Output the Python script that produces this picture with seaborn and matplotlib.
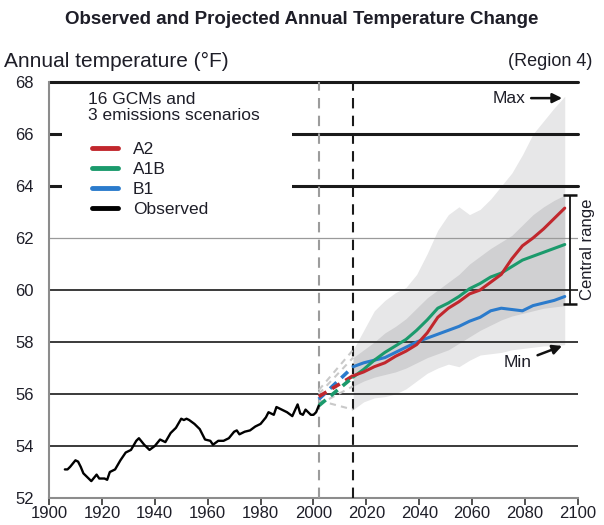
import numpy as np
import pandas as pd
import matplotlib.pyplot as plt
import seaborn as sns
from matplotlib.lines import Line2D
from matplotlib.patches import Rectangle

sns.set_theme(style='white')
plt.rcParams['font.family'] = ['Liberation Sans', 'DejaVu Sans']
TXT = '#1e1e28'

# Observed annual temperature (deg F), running mean
obs_years = [1906, 1907, 1908, 1910, 1911, 1912, 1913, 1915, 1916, 1918, 1919, 1921, 1922,
             1923, 1925, 1927, 1929, 1931, 1933, 1934, 1936, 1938, 1940, 1942, 1944, 1946,
             1948, 1950, 1951, 1952, 1953, 1955, 1957, 1959, 1961, 1962, 1964, 1966, 1968,
             1970, 1971, 1972, 1974, 1976, 1978, 1980, 1982, 1983, 1985, 1986, 1988, 1990,
             1992, 1994, 1995, 1996, 1997, 1998, 1999, 2000, 2001, 2002]
obs_temp = [53.1, 53.1, 53.2, 53.45, 53.4, 53.2, 52.95, 52.75, 52.65, 52.9, 52.75, 52.75, 52.7,
            53.0, 53.1, 53.45, 53.75, 53.85, 54.2, 54.3, 54.05, 53.85, 54.0, 54.25, 54.15, 54.5,
            54.7, 55.05, 55.0, 55.05, 55.0, 54.85, 54.65, 54.25, 54.2, 54.05, 54.2, 54.2, 54.3,
            54.55, 54.6, 54.45, 54.55, 54.6, 54.75, 54.85, 55.1, 55.3, 55.2, 55.5, 55.4, 55.3,
            55.15, 55.6, 55.25, 55.2, 55.4, 55.3, 55.2, 55.2, 55.3, 55.55]

# Projections (multi-model mean per scenario) and envelopes
proj_years = [2015, 2019, 2023, 2027, 2031, 2035, 2039, 2043, 2047, 2051, 2055,
              2059, 2063, 2067, 2071, 2075, 2079, 2083, 2087, 2091, 2095]
a2 = [56.70, 56.85, 57.05, 57.2, 57.45, 57.65, 57.9, 58.35, 58.95, 59.3, 59.55,
      59.85, 60.0, 60.3, 60.6, 61.2, 61.7, 62.0, 62.35, 62.75, 63.15]
a1b = [56.65, 56.95, 57.3, 57.6, 57.85, 58.1, 58.45, 58.85, 59.3, 59.5, 59.75,
       60.05, 60.25, 60.5, 60.65, 60.9, 61.15, 61.3, 61.45, 61.6, 61.75]
b1 = [57.05, 57.2, 57.3, 57.4, 57.6, 57.8, 58.0, 58.15, 58.3, 58.45, 58.6,
      58.8, 58.95, 59.2, 59.3, 59.25, 59.2, 59.4, 59.5, 59.6, 59.75]
env_max = [57.7, 58.45, 59.2, 59.6, 59.9, 60.1, 60.6, 61.4, 62.3, 62.9, 63.2,
           62.9, 63.1, 63.5, 64.0, 64.5, 65.2, 66.0, 66.5, 67.0, 67.45]
env_min = [55.4, 55.7, 55.85, 55.9, 56.0, 56.2, 56.5, 56.8, 57.0, 57.15, 57.05,
           57.3, 57.5, 57.55, 57.6, 57.7, 57.75, 57.8, 57.85, 57.85, 57.9]
cen_hi = [57.4, 57.7, 58.0, 58.35, 58.6, 58.9, 59.3, 59.7, 60.0, 60.3, 60.6,
          61.0, 61.3, 61.6, 61.85, 62.1, 62.5, 62.9, 63.2, 63.45, 63.65]
cen_lo = [56.3, 56.5, 56.65, 56.75, 56.85, 57.0, 57.2, 57.4, 57.55, 57.7, 57.95,
          58.2, 58.45, 58.65, 58.85, 59.0, 59.1, 59.2, 59.3, 59.35, 59.4]

# Bridge (dashed) segments between end of observations and start of projections
bridge_years = [2002, 2015]
bridge_a2 = [55.9, 56.7]
bridge_a1b = [55.55, 56.65]
bridge_b1 = [55.8, 57.05]
bridge_gray = [[56.15, 57.7], [56.0, 57.4], [55.6, 56.3], [55.75, 55.4]]

scenarios = ['A2', 'A1B', 'B1']
palette = {'A2': '#c1272d', 'A1B': '#1b9a6c', 'B1': '#2b7bcc'}

proj = pd.DataFrame({
    'year': proj_years * 3,
    'temp': a2 + a1b + b1,
    'scenario': ['A2'] * len(a2) + ['A1B'] * len(a1b) + ['B1'] * len(b1),
})
obs = pd.DataFrame({'year': obs_years, 'temp': obs_temp})

fig = plt.figure(figsize=(6.04, 5.25), dpi=100)
ax = fig.add_axes([0.0811, 0.0514, 0.8758, 0.7924])

# envelopes
ax.fill_between(proj_years, env_min, env_max, color='#e7e7e8', lw=0, zorder=1)
ax.fill_between(proj_years, cen_lo, cen_hi, color='#d0d0d2', lw=0, zorder=1.2)

# horizontal reference lines
for v in [68, 66, 64]:
    ax.axhline(v, color='#1a1a1a', lw=2.2, zorder=2.5, clip_on=False)
ax.axhline(62, color='#9a9a9a', lw=0.9, zorder=2.5)
for v in [60, 58, 56, 54]:
    ax.axhline(v, color='#2b2b2b', lw=1.3, zorder=2.5)

# white box behind legend
ax.add_patch(Rectangle((1905, 62.75), 87, 4.9, facecolor='white', edgecolor='none', zorder=3))

# vertical dashed markers
ax.axvline(2002, color='#9c9c9c', lw=1.5, dashes=(5, 3.5), zorder=2.6)
ax.axvline(2015, color='#1a1a1a', lw=1.5, dashes=(5, 3.5), zorder=2.6)

# dashed bridges
for g in bridge_gray:
    ax.plot(bridge_years, g, color='#c9c9c9', lw=1.5, dashes=(3, 2.5), zorder=2.7)
for vals, s in zip([bridge_b1, bridge_a2, bridge_a1b], ['B1', 'A2', 'A1B']):
    ax.plot(bridge_years, vals, color=palette[s], lw=2.6, dashes=(2.5, 1.8), zorder=2.8)

sns.lineplot(data=obs, x='year', y='temp', color='black', lw=1.7, ax=ax, zorder=4)
sns.lineplot(data=proj, x='year', y='temp', hue='scenario', hue_order=['B1', 'A1B', 'A2'],
             palette=palette, lw=2.2, ax=ax, legend=False, zorder=4)

ax.set_xlim(1900, 2100)
ax.set_ylim(52, 68)
ax.set_xticks(range(1900, 2101, 20))
ax.set_yticks(range(52, 69, 2))
ax.set_xlabel('')
ax.set_ylabel('')
ax.tick_params(axis='x', direction='out', length=5, width=1.2, color='#333333',
               labelsize=12, labelcolor=TXT, pad=1, bottom=True)
ax.tick_params(axis='y', length=0, labelsize=12, labelcolor=TXT, pad=11)
for side in ['top', 'right']:
    ax.spines[side].set_visible(False)
for side in ['left', 'bottom']:
    ax.spines[side].set_color('#8c8c8c')
    ax.spines[side].set_linewidth(1.5)

# legend (title drawn as separate text so the gap matches)
fig.text(88 / 604, 1 - 92 / 525, '16 GCMs and\n3 emissions scenarios', ha='left',
         va='top', fontsize=12.5, color=TXT, linespacing=1.05, zorder=6)
handles = [Line2D([], [], color=palette[s], lw=3.5) for s in scenarios]
handles.append(Line2D([], [], color='black', lw=3.5))
leg = ax.legend(handles, scenarios + ['Observed'], loc='upper left',
                bbox_to_anchor=((92 - 49) / 529, (498 - 142) / 416), frameon=False,
                fontsize=12.5, labelspacing=0.27, handlelength=1.5, handletextpad=0.85,
                borderpad=0, borderaxespad=0)
leg.set_zorder(5)
for t in leg.get_texts():
    t.set_color(TXT)

# Max / Min annotations
ax.annotate('Max', xy=(2094, 67.38), xytext=(2080, 67.38), ha='right', va='center',
            fontsize=12.5, color=TXT,
            arrowprops=dict(arrowstyle='-|>', color='#111111', lw=1.8, mutation_scale=14,
                            shrinkA=2, shrinkB=0))
ax.annotate('Min', xy=(2094, 57.85), xytext=(2082.5, 57.2), ha='right', va='center',
            fontsize=12.5, color=TXT,
            arrowprops=dict(arrowstyle='-|>', color='#111111', lw=1.8, mutation_scale=14,
                            shrinkA=2, shrinkB=0))

# central range bar
ax.errorbar([2097], [(63.65 + 59.45) / 2], yerr=[(63.65 - 59.45) / 2], color='#111111',
            lw=1.3, capsize=5, capthick=1.8, clip_on=False, zorder=5)
ax.text(2103.5, 61.55, 'Central range', rotation=90, ha='center', va='center',
        fontsize=12, color=TXT, clip_on=False)

fig.text(0.5, 1 - 20 / 525, 'Observed and Projected Annual Temperature Change',
         ha='center', va='center', fontsize=13.5, fontweight='bold', color=TXT)
fig.text(4 / 604, 1 - 61 / 525, 'Annual temperature (°F)', ha='left', va='center',
         fontsize=15, color=TXT)
fig.text(592 / 604, 1 - 61 / 525, '(Region 4)', ha='right', va='center',
         fontsize=13, color=TXT)

fig.savefig('out.png', dpi=100)
plt.close(fig)
